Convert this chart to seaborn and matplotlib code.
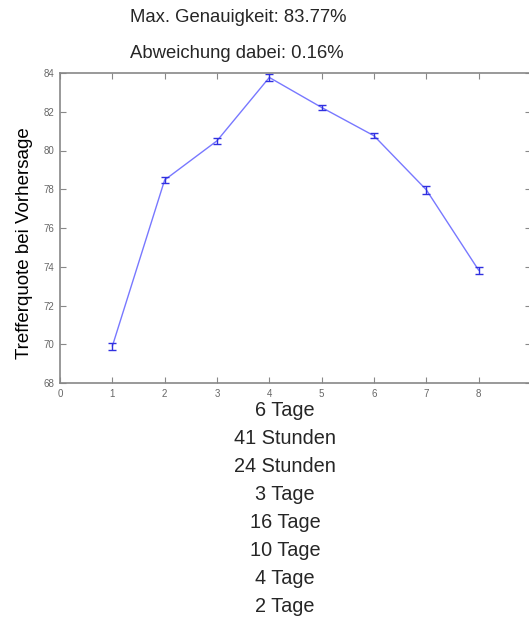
import matplotlib
matplotlib.use("Agg")
import matplotlib.pyplot as plt
import seaborn as sns
import pandas as pd

# Accuracy per configuration with its standard deviation
config = [1, 2, 3, 4, 5, 6, 7, 8]
accuracy = [69.90, 78.48, 80.50, 83.77, 82.22, 80.76, 77.97, 73.82]
deviation = [0.18, 0.15, 0.15, 0.16, 0.14, 0.13, 0.22, 0.18]
horizons = ["6 Tage", "41 Stunden", "24 Stunden", "3 Tage",
            "16 Tage", "10 Tage", "4 Tage", "2 Tage"]
x_ticks = list(range(0, 10))
y_ticks = list(range(68, 85, 2))

sns.set_style("white")
plt.rcParams["font.family"] = ["Liberation Sans", "DejaVu Sans"]

df = pd.DataFrame({"config": config, "accuracy": accuracy})

fig = plt.figure(figsize=(5.29, 6.23), dpi=100)
ax = fig.add_axes([60 / 529, 1 - 383 / 623, 471 / 529, 310 / 623])

sns.lineplot(data=df, x="config", y="accuracy", ax=ax,
             color="#7878ff", linewidth=1.0)
ax.errorbar(config, accuracy, yerr=deviation, fmt="none",
            ecolor="#3030e0", elinewidth=1.0, capsize=3, capthick=1.0)

ax.set_xlim(0, 9)
ax.set_ylim(68, 84)
ax.set_xticks(x_ticks)
ax.set_xticklabels([str(t) if t < 9 else "" for t in x_ticks])
ax.set_yticks(y_ticks)
ax.set_xlabel("")
ax.set_ylabel("Trefferquote bei Vorhersage", fontsize=13.5, color="black")
ax.yaxis.set_label_coords(-0.057, 0.45)

for side in ["left", "bottom", "top", "right"]:
    ax.spines[side].set_color("#888888")
    ax.spines[side].set_linewidth(1.2)
ax.tick_params(direction="in", length=4, width=0.8, colors="#888888",
               labelcolor="#666666", labelsize=7, top=True, right=True,
               bottom=True, left=True, pad=4)

fig.text(130 / 529, 1 - 18 / 623, "Max. Genauigkeit: 83.77%",
         ha="left", va="center", fontsize=13.3)
fig.text(130 / 529, 1 - 53 / 623, "Abweichung dabei: 0.16%",
         ha="left", va="center", fontsize=13.3)

for i, label in enumerate(horizons):
    fig.text(285 / 529, 1 - (411 + i * 27.9) / 623, label,
             ha="center", va="center", fontsize=14.3)

fig.savefig("out.png", dpi=100)
